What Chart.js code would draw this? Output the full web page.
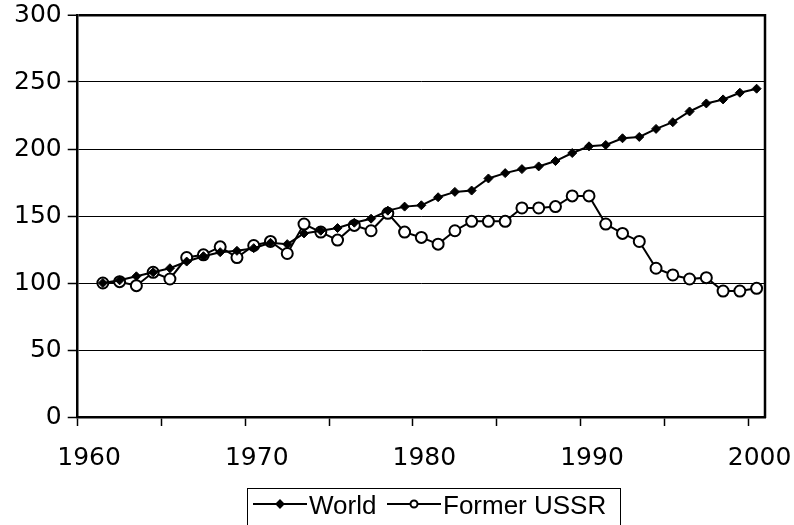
<!DOCTYPE html>
<html>
<head>
<meta charset="utf-8">
<script src="https://cdn.jsdelivr.net/npm/chart.js@4/dist/chart.umd.min.js"></script>
<style>
html, body { margin: 0; padding: 0; background: #fff; }
canvas { display: block; }
</style>
</head>
<body>
<canvas id="c" width="794" height="525"></canvas>
<script>
// Category years (1960 is an empty category; data start in 1961)
const years = [1960,1961,1962,1963,1964,1965,1966,1967,1968,1969,1970,1971,1972,1973,1974,1975,1976,1977,1978,1979,1980,
  1981,1982,1983,1984,1985,1986,1987,1988,1989,1990,1991,1992,1993,1994,1995,1996,1997,1998,1999,2000];
const labelYears = [1960, 1970, 1980, 1990, 2000];
const worldValues = [null,100,102,105,108,111,116,120,123,124,126,130,129,137,139,141,145,148,154,157,158,
  164,168,169,178,182,185,187,191,197,202,203,208,209,215,220,228,234,237,242,245];
const ussrValues = [null,100,101,98,108,103,119,121,127,119,128,131,122,144,138,132,143,139,152,138,134,
  129,139,146,146,146,156,156,157,165,165,144,137,131,111,106,103,104,94,94,96];
const seriesNames = ['World', 'Former USSR'];
const yTicks = [0, 50, 100, 150, 200, 250, 300];

const tickFont = { family: 'DejaVu Sans', size: 25 };

const frame = {
  id: 'frame',
  afterDatasetsDraw(chart) {
    const { ctx, chartArea: a } = chart;
    ctx.save();
    ctx.strokeStyle = '#000';
    ctx.lineWidth = 2.5;
    ctx.beginPath();
    ctx.moveTo(a.right, a.top - 1);
    ctx.lineTo(a.right, a.bottom + 1);
    ctx.stroke();
    ctx.restore();
  }
};

const boxLegend = {
  id: 'boxLegend',
  afterDraw(chart) {
    const ctx = chart.ctx;
    const H = chart.height;
    const top = H - 37, left = 247.5, right = 620.5, cy = H - 21;
    ctx.save();
    ctx.strokeStyle = '#000';
    ctx.lineWidth = 1;
    ctx.strokeRect(left, top + 0.5, right - left, 60);
    const items = [
      { x0: 253, x1: 307, tx: 309, ds: chart.data.datasets[0] },
      { x0: 387, x1: 441, tx: 443, ds: chart.data.datasets[1] }
    ];
    items.forEach(it => {
      ctx.strokeStyle = '#000';
      ctx.lineWidth = 2;
      ctx.beginPath();
      ctx.moveTo(it.x0, cy);
      ctx.lineTo(it.x1, cy);
      ctx.stroke();
      ctx.fillStyle = it.ds.pointBackgroundColor;
      ctx.strokeStyle = '#000';
      ctx.lineWidth = 2;
      Chart.helpers.drawPoint(ctx, {
        pointStyle: it.ds.pointStyle,
        radius: 3.5,
        borderWidth: 2,
        rotation: 0
      }, (it.x0 + it.x1) / 2, cy);
      ctx.fillStyle = '#000';
      ctx.font = '26px "Liberation Sans", Arial, sans-serif';
      ctx.textBaseline = 'alphabetic';
      ctx.textAlign = 'left';
      ctx.fillText(it.ds.label, it.tx, cy + 9.5);
    });
    ctx.restore();
  }
};

new Chart(document.getElementById('c'), {
  type: 'line',
  data: {
    labels: years,
    datasets: [
      {
        label: seriesNames[0],
        data: worldValues,
        borderColor: '#000',
        borderWidth: 2,
        backgroundColor: '#000',
        pointStyle: 'rectRot',
        pointRadius: 4.5,
        pointBackgroundColor: '#000',
        pointBorderColor: '#000',
        pointBorderWidth: 1,
        tension: 0
      },
      {
        label: seriesNames[1],
        data: ussrValues,
        borderColor: '#000',
        borderWidth: 2,
        backgroundColor: '#fff',
        pointStyle: 'circle',
        pointRadius: 5.5,
        pointBackgroundColor: '#fff',
        pointBorderColor: '#000',
        pointBorderWidth: 2,
        tension: 0
      }
    ]
  },
  options: {
    responsive: false,
    animation: false,
    devicePixelRatio: 1,
    layout: { padding: { left: 8, right: 29, top: 15, bottom: 35 } },
    plugins: {
      legend: { display: false },
      tooltip: { enabled: false }
    },
    scales: {
      x: {
        type: 'category',
        offset: true,
        afterFit: (s) => { s.paddingLeft = 0; s.paddingRight = 0; },
        grid: {
          offset: true,
          drawOnChartArea: false,
          drawTicks: true,
          tickLength: 9,
          tickWidth: 1.5,
          tickColor: (c) => (c.index % 5 === 0 ? '#000' : 'rgba(0,0,0,0)')
        },
        border: { display: true, color: '#000', width: 2.5 },
        ticks: {
          autoSkip: false,
          maxRotation: 0,
          minRotation: 0,
          padding: 17,
          labelOffset: 3,
          color: '#000',
          font: tickFont,
          callback: (v, i) => (labelYears.includes(years[i]) ? String(years[i]) : '')
        }
      },
      y: {
        min: 0,
        max: 300,
        afterBuildTicks: (s) => { s.ticks = yTicks.map(v => ({ value: v })); },
        afterFit: (s) => { s.paddingTop = 0; s.paddingBottom = 0; },
        grid: {
          color: '#000',
          lineWidth: (c) => (c.tick && c.tick.value === 300 ? 2.5 : 1),
          drawTicks: true,
          tickLength: 10,
          tickWidth: 1.5,
          tickColor: '#000'
        },
        border: { display: true, color: '#000', width: 2.5 },
        ticks: {
          padding: 6,
          color: '#000',
          font: tickFont
        }
      }
    }
  },
  plugins: [frame, boxLegend]
});
</script>
</body>
</html>
